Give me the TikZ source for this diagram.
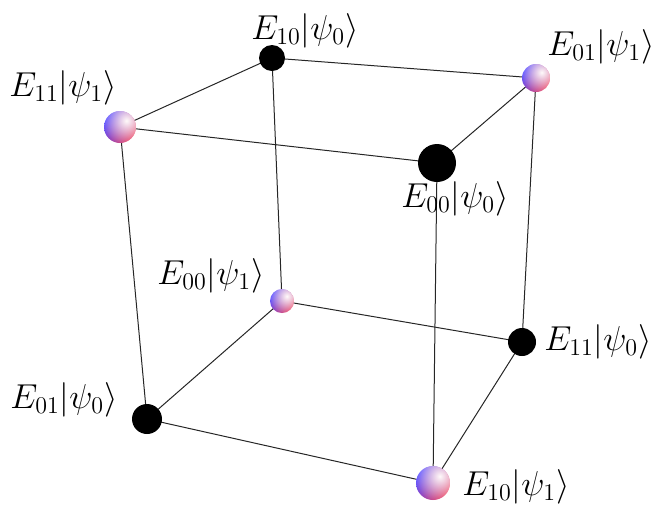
\documentclass[tikz,border=0pt]{standalone}
\usepackage{amsmath,amssymb}
\usepackage{xcolor}
\usepackage{tikz}
\usetikzlibrary{calc,fadings}
\definecolor{ballblue}{RGB}{92,80,255}
\definecolor{ballred}{RGB}{236,62,92}
\tikzfading[name=glow, inner color=transparent!0, outer color=transparent!100]

\begin{document}
\begin{tikzpicture}[
  x=0.5pt,y=-0.5pt,
  edge/.style={draw=black!85,line width=0.5pt},
  dark/.style={circle,fill=black,inner sep=0pt,minimum size=#1},
  qball/.style={circle,inner sep=0pt,minimum size=#1,
    path picture={
      \shade[left color=ballblue,right color=ballred,shading angle=60]
        (path picture bounding box.south west) rectangle (path picture bounding box.north east);
      \fill[white!92!pink,path fading=glow]
        ($(path picture bounding box.south west)!-0.05!(path picture bounding box.north east)$) rectangle
        ($(path picture bounding box.south west)!1.45!(path picture bounding box.north east)$);
    }},
  lab/.style={inner sep=0pt,font=\fontsize{16.5}{19}\selectfont}
]
\useasboundingbox (0,0) rectangle (663,505);
% corners of the cube
\coordinate (a) at (272,58);
\coordinate (b) at (536,78);
\coordinate (c) at (120,127);
\coordinate (d) at (437,163);
\coordinate (e) at (282,301);
\coordinate (f) at (522,342);
\coordinate (g) at (147,419);
\coordinate (h) at (433,483);
% top face
\draw[edge] (a) -- (b) -- (d) -- (c) -- cycle;
% bottom face
\draw[edge] (e) -- (f) -- (h) -- (g) -- cycle;
% verticals
\draw[edge] (a) -- (e);
\draw[edge] (b) -- (f);
\draw[edge] (c) -- (g);
\draw[edge] (d) -- (h);
% the states
\node[dark=13pt] (na) at (a) {};
\node[qball=14pt] (nb) at (b) {};
\node[qball=16pt] (nc) at (c) {};
\node[dark=19pt] (nd) at (d) {};
\node[qball=12pt] (ne) at (e) {};
\node[dark=14pt] (nf) at (f) {};
\node[dark=15pt] (ng) at (g) {};
\node[qball=17pt] (nh) at (h) {};
% labels
\node[lab] (la) at (305,31) {$E_{10}|\psi_0\rangle$};
\node[lab] (lb) at (601,47) {$E_{01}|\psi_1\rangle$};
\node[lab] (lc) at (63,88) {$E_{11}|\psi_1\rangle$};
\node[lab] (ld) at (455,199) {$E_{00}|\psi_0\rangle$};
\node[lab] (le) at (211,276) {$E_{00}|\psi_1\rangle$};
\node[lab] (lf) at (598,342) {$E_{11}|\psi_0\rangle$};
\node[lab] (lg) at (64,400) {$E_{01}|\psi_0\rangle$};
\node[lab] (lh) at (516,487) {$E_{10}|\psi_1\rangle$};
\end{tikzpicture}
\end{document}
